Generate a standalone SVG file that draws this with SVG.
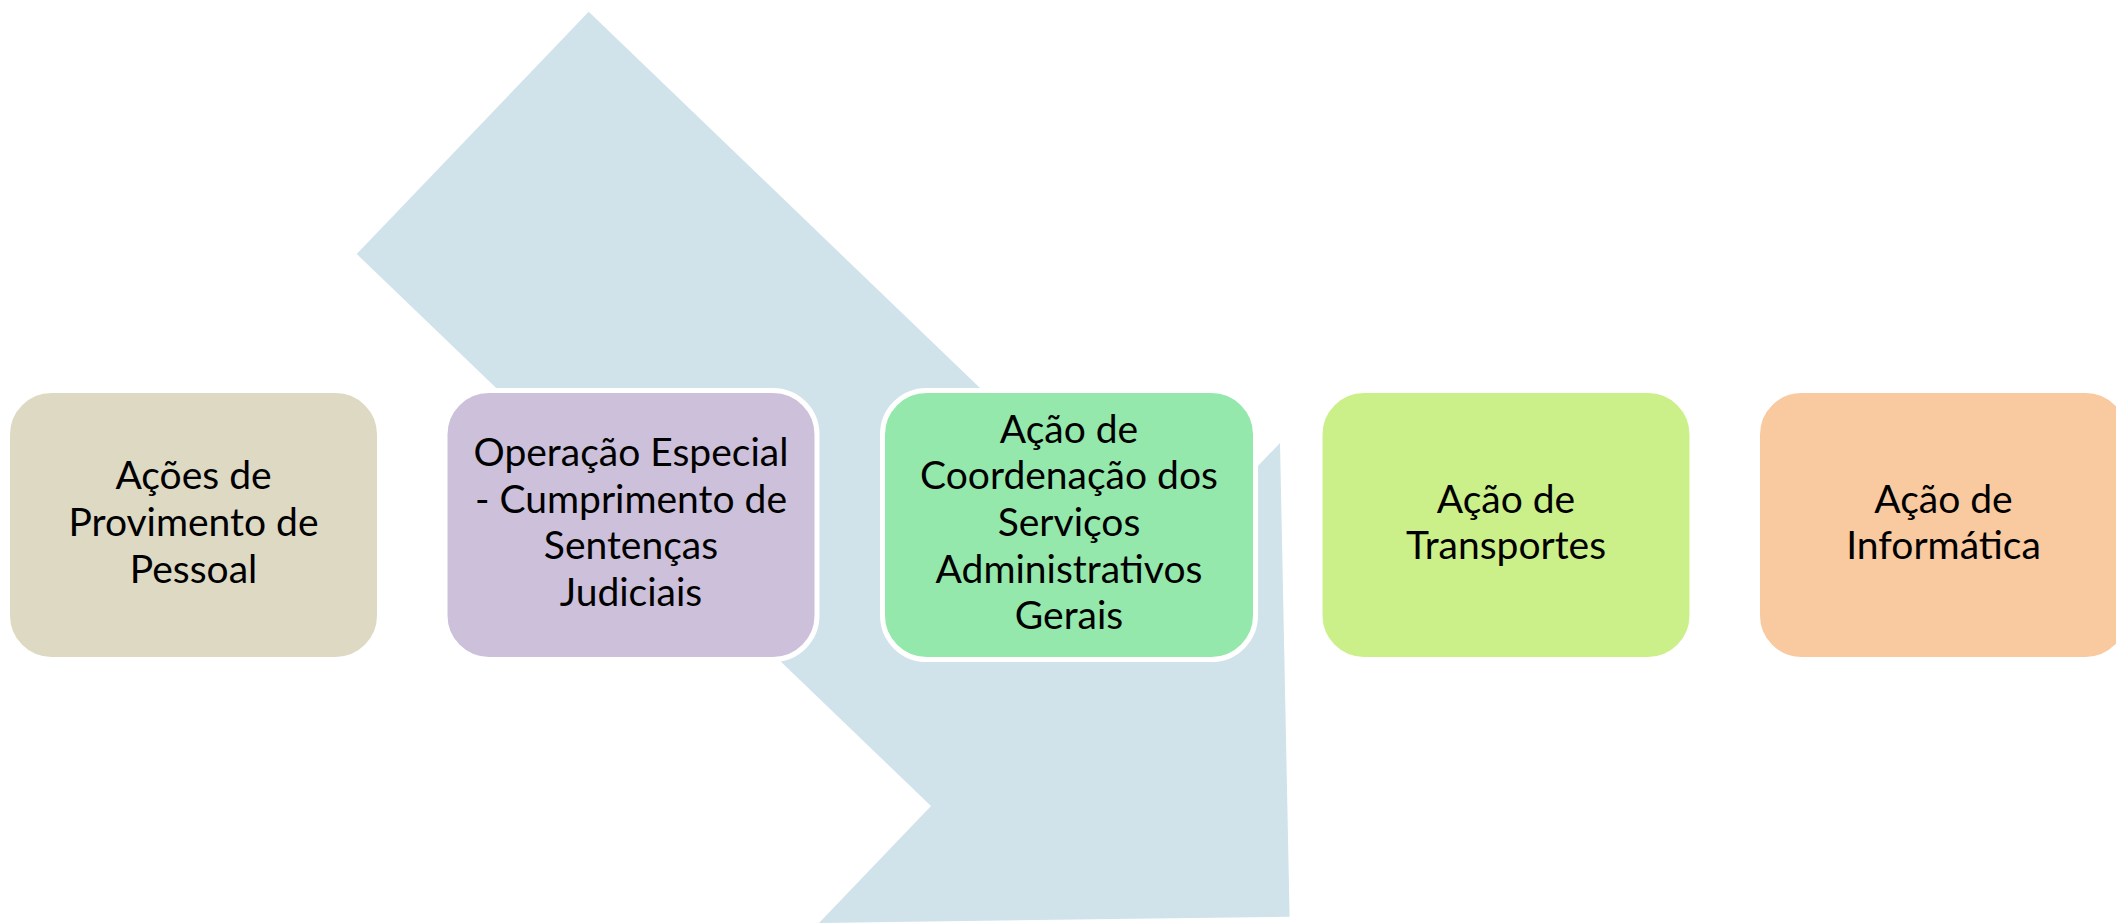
<svg xmlns="http://www.w3.org/2000/svg" width="2116" height="923" viewBox="0 0 2116 923">
<style>
.box{stroke:#FFFFFF;stroke-width:5}
.t{font-family:Lato,"Open Sans","Liberation Sans",sans-serif;font-size:39px;fill:#000000;text-anchor:middle}
</style>
<rect width="2116" height="923" fill="#FFFFFF"/>
<g id="connectors">
<polygon points="588.7,11.7 1163.6,564.6 1280,443 1289.6,916.7 819,923 931,806 356.7,254" fill="#D0E2EA"/>
</g>
<g id="node1">
<rect class="box" x="7.5" y="390.5" width="372" height="269" rx="44" fill="#DDD9C3"/>
<text class="t" x="193.5" y="489.3">Ações de</text>
<text class="t" x="193.5" y="536">Provimento de</text>
<text class="t" x="193.5" y="582.7">Pessoal</text>
</g>
<g id="node2">
<rect class="box" x="445" y="390.5" width="372" height="269" rx="44" fill="#CCC0DA"/>
<text class="t" x="631" y="466">Operação Especial</text>
<text class="t" x="631" y="512.7">- Cumprimento de</text>
<text class="t" x="631" y="559.4">Sentenças</text>
<text class="t" x="631" y="606">Judiciais</text>
</g>
<g id="node3">
<rect class="box" x="882.5" y="390.5" width="373" height="269" rx="44" fill="#95E8AB"/>
<text class="t" x="1069" y="442.6">Ação de</text>
<text class="t" x="1069" y="489.3">Coordenação dos</text>
<text class="t" x="1069" y="536">Serviços</text>
<text class="t" x="1069" y="582.7">Administrativos</text>
<text class="t" x="1069" y="629.4">Gerais</text>
</g>
<g id="node4">
<rect class="box" x="1320" y="390.5" width="372" height="269" rx="44" fill="#CBF08A"/>
<text class="t" x="1506" y="512.7">Ação de</text>
<text class="t" x="1506" y="559.4">Transportes</text>
</g>
<g id="node5">
<rect class="box" x="1757.5" y="390.5" width="372" height="269" rx="44" fill="#F9C9A0"/>
<text class="t" x="1943.5" y="512.7">Ação de</text>
<text class="t" x="1943.5" y="559.4">Informática</text>
</g>
</svg>
